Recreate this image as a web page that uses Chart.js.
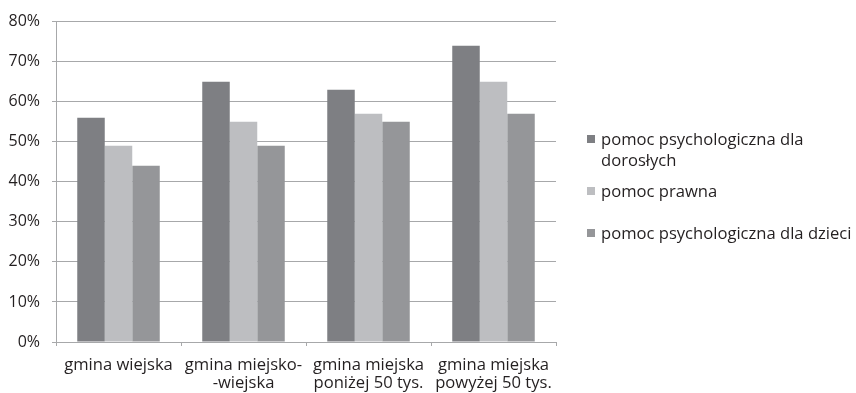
<!DOCTYPE html>
<html lang="pl">
<head>
<meta charset="utf-8">
<script src="https://cdn.jsdelivr.net/npm/chart.js@4/dist/chart.umd.min.js"></script>
<style>
  html, body { margin: 0; padding: 0; background: #fff; overflow: hidden; }
  .wrap { position: relative; width: 856px; height: 393px; }
  #chart { position: absolute; left: 0; top: 0; }
  .legend { position: absolute; left: 587px; top: 0; font-family: "Open Sans", sans-serif; font-size: 16.6px; color: #231f20; }
  .legend-item { position: absolute; left: 0; line-height: 21px; padding-left: 14px; white-space: nowrap; }
  .legend-item i { position: absolute; left: 0; top: 7px; width: 8px; height: 8px; }
</style>
</head>
<body>
<div class="wrap">
  <canvas id="chart" width="856" height="393"></canvas>
  <div class="legend" id="legend"></div>
</div>
<script>
// Kategorie gmin i wyniki (%) dla trzech rodzajów pomocy
const categories = [
  ["gmina wiejska"],
  ["gmina miejsko-", "-wiejska"],
  ["gmina miejska", "poniżej 50 tys."],
  ["gmina miejska", "powyżej 50 tys."]
];
const seriesNames = [
  ["pomoc psychologiczna dla", "dorosłych"],
  ["pomoc prawna"],
  ["pomoc psychologiczna dla dzieci"]
];
const doroslych = [56, 65, 63, 74];
const prawna = [49, 55, 57, 65];
const dzieci = [44, 49, 55, 57];
const yTicks = [0, 10, 20, 30, 40, 50, 60, 70, 80];

const colors = ["#7e7f83", "#bdbec1", "#959699"];
const gridColor = "#a7a8aa";
const textColor = "#231f20";

const chartData = {
  labels: categories,
  datasets: [doroslych, prawna, dzieci].map((values, i) => ({
    label: seriesNames[i].join(" "),
    data: values,
    backgroundColor: colors[i],
    borderWidth: 0,
    barPercentage: 1,
    categoryPercentage: 0.66
  }))
};

const config = {
  type: "bar",
  data: chartData,
  options: {
    responsive: false,
    animation: false,
    layout: { padding: { top: 19, right: 300, left: 0, bottom: 0 } },
    plugins: {
      legend: { display: false },
      tooltip: { enabled: false }
    },
    scales: {
      x: {
        grid: {
          offset: true,
          drawOnChartArea: false,
          drawTicks: true,
          tickLength: 4,
          color: gridColor
        },
        border: { color: gridColor, width: 1 },
        ticks: {
          color: textColor,
          font: { family: "Open Sans", size: 16.6, lineHeight: 1.085 },
          maxRotation: 0,
          padding: 10
        },
        afterFit: (scale) => { scale.height = 51; }
      },
      y: {
        min: 0,
        max: 80,
        afterBuildTicks: (scale) => { scale.ticks = yTicks.map(v => ({ value: v })); },
        grid: { color: gridColor, tickLength: 4, lineWidth: 1 },
        border: { color: gridColor, width: 1 },
        ticks: {
          color: textColor,
          font: { family: "Open Sans", size: 16 },
          padding: 12,
          callback: (v) => v + "%"
        },
        afterFit: (scale) => { scale.width = 56; }
      }
    }
  }
};

new Chart(document.querySelector("#chart"), config);

// legenda obok wykresu
const legendTops = [128, 180, 222];
const legendRef = document.querySelector("#legend");
seriesNames.forEach((lines, i) => {
  const item = document.createElement("div");
  item.className = "legend-item";
  item.style.top = legendTops[i] + "px";
  const box = document.createElement("i");
  box.style.background = colors[i];
  item.appendChild(box);
  lines.forEach((line, j) => {
    if (j > 0) item.appendChild(document.createElement("br"));
    item.appendChild(document.createTextNode(line));
  });
  legendRef.appendChild(item);
});
</script>
</body>
</html>
